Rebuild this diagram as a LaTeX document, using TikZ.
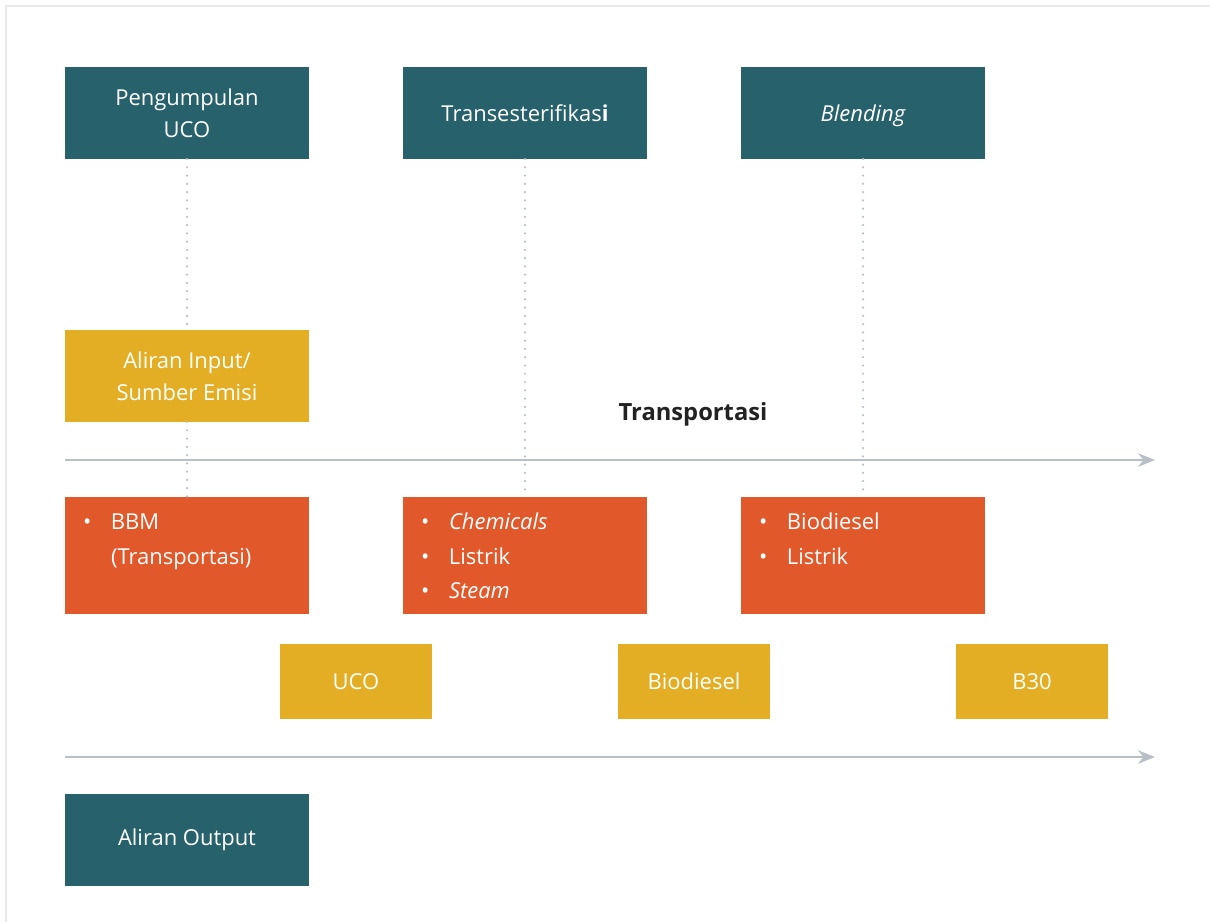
\documentclass[tikz,border=0pt]{standalone}
\usepackage{fontspec}
\setmainfont{Open Sans}
\usepackage{xcolor}
\usepackage{tikz}
\usetikzlibrary{arrows.meta, positioning}

\definecolor{stepteal}{HTML}{27616C}
\definecolor{inyellow}{HTML}{E3AE24}
\definecolor{itemorange}{HTML}{E1582B}
\definecolor{linegray}{HTML}{B8BFC7}
\definecolor{framegray}{HTML}{E8E9EA}
\definecolor{labeldark}{HTML}{222222}

% bullet lists inside the orange boxes
\newcommand{\listbox}[1]{\parbox[c][2.34cm][t]{4.88cm}{\fontsize{12.5}{19.5}\selectfont\raggedright\vspace{0.18cm}#1}}
\newcommand{\bitem}[1]{\par\hangindent=0.92cm\hangafter=1\noindent\strut\hspace{0.36cm}\makebox[0.56cm][l]{\textbullet}#1}

\tikzset{
    myarrow/.style={-{Stealth[length=0.34cm, width=0.27cm]}, draw=linegray, line width=1.1pt},
    link/.style={draw=linegray, line width=1.4pt, line cap=round, dash pattern=on 0pt off 4.7pt},
    stepbox/.style={rectangle, fill=stepteal, text=white, outer sep=0pt, minimum width=4.88cm, minimum height=1.84cm, align=center, font=\fontsize{12.5}{18}\selectfont},
    inbox/.style={stepbox, fill=inyellow},
    flowbox/.style={stepbox, fill=inyellow, minimum width=3.04cm, minimum height=1.5cm},
    itembox/.style={rectangle, fill=itemorange, text=white, outer sep=0pt, inner sep=0pt, minimum width=4.88cm, minimum height=2.34cm}
}

\begin{document}
\begin{tikzpicture}[node distance=1.88cm]
    \useasboundingbox (-3.74,2.26) rectangle (20.46,-16.18);
    \draw [framegray, line width=1.7pt] (-3.62,-16.18) -- (-3.62,2.14) -- (20.46,2.14);

    % process steps
    \node (pengumpulan) [stepbox] at (0,0) {Pengumpulan\\UCO};
    \node (transesterifikasi) [stepbox, right=of pengumpulan] {Transesterifikas\textbf{i}};
    \node (blending) [stepbox, text depth=0pt, right=of transesterifikasi] {\itshape Blending};

    % inputs
    \node (input) [inbox, below=3.42cm of pengumpulan] {Aliran Input/\\Sumber Emisi};
    \node (bbm) [itembox, below=1.5cm of input] {\listbox{\bitem{BBM\newline(Transportasi)}}};
    \node (chemicals) [itembox, right=of bbm] {\listbox{\bitem{\textit{Chemicals}}\bitem{Listrik}\bitem{\textit{Steam}}}};
    \node (biodiesel) [itembox, right=of chemicals] {\listbox{\bitem{Biodiesel}\bitem{Listrik}}};

    % outputs
    \node (uco) [flowbox, below right=0.6cm and -0.58cm of bbm] {UCO};
    \node (biodieselout) [flowbox, below right=0.6cm and -0.58cm of chemicals] {Biodiesel};
    \node (b30) [flowbox, below right=0.6cm and -0.58cm of biodiesel] {B30};
    \node (output) [stepbox, below=3.6cm of bbm] {Aliran Output};

    % time lines
    \coordinate (tstart) at ([yshift=-0.76cm]input.south west);
    \coordinate (tend) at ([xshift=21.8cm]tstart);
    \coordinate (ostart) at ([yshift=0.74cm]output.north west);
    \coordinate (oend) at ([xshift=21.8cm]ostart);
    \draw [myarrow] (tstart) -- (tend);
    \draw [myarrow] (ostart) -- (oend);
    \node (transportasi) [font=\bfseries\fontsize{13.5}{15}\selectfont, text=labeldark] at ([xshift=12.56cm, yshift=0.92cm]tstart) {Transportasi};

    \draw [link] (pengumpulan) -- (input);
    \draw [link] (input) -- (bbm);
    \draw [link] (transesterifikasi) -- (chemicals);
    \draw [link] (blending) -- (biodiesel);
\end{tikzpicture}
\end{document}
